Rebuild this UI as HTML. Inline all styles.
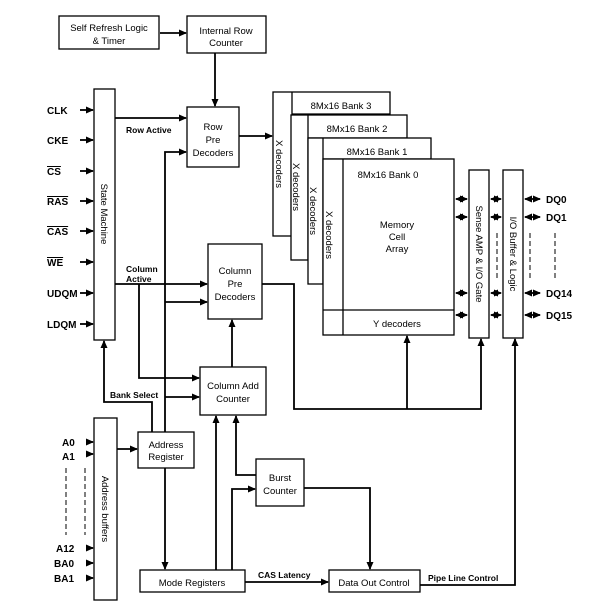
<!DOCTYPE html>
<html><head><style>
body{margin:0;background:#fff}
svg{display:block;font-family:"Liberation Sans",sans-serif}
.b{font-weight:bold;font-size:10px}
.t{font-size:9.5px}
</style></head><body>
<svg width="607" height="609" viewBox="0 0 607 609">
<defs><marker id="a" markerWidth="8" markerHeight="8" refX="7" refY="4" orient="auto" markerUnits="userSpaceOnUse"><path d="M0,0.5 L8,4 L0,7.5z" fill="#000"/></marker>
<marker id="s" markerWidth="8" markerHeight="8" refX="1" refY="4" orient="auto" markerUnits="userSpaceOnUse"><path d="M8,0.5 L0,4 L8,7.5z" fill="#000"/></marker></defs>
<g fill="none" stroke="#000" stroke-width="1.3">
<rect x="59" y="16" width="100" height="33"/>
<rect x="187" y="16" width="79" height="37"/>
<rect x="94" y="89" width="21" height="251"/>
<rect x="187" y="107" width="52" height="60"/>
<rect x="208" y="244" width="54" height="75"/>
<rect x="200" y="367" width="66" height="48"/>
<rect x="94" y="418" width="23" height="182"/>
<rect x="138" y="432" width="56" height="36"/>
<rect x="256" y="459" width="48" height="47"/>
<rect x="140" y="570" width="105" height="22"/>
<rect x="329" y="570" width="91" height="22"/>
<rect x="273" y="92" width="117" height="144" fill="#fff"/><line x1="292" y1="92" x2="292" y2="236"/><line x1="292" y1="114" x2="390" y2="114"/>
<rect x="291" y="115" width="116" height="145" fill="#fff"/><line x1="308" y1="115" x2="308" y2="260"/><line x1="308" y1="138" x2="407" y2="138"/>
<rect x="308" y="138" width="123" height="146" fill="#fff"/><line x1="323" y1="138" x2="323" y2="284"/><line x1="323" y1="159" x2="431" y2="159"/>
<rect x="323" y="159" width="131" height="176" fill="#fff"/><line x1="343" y1="159" x2="343" y2="335"/><line x1="323" y1="310" x2="454" y2="310"/>
<rect x="469" y="170" width="20" height="168"/>
<rect x="503" y="170" width="20" height="168"/>
</g>
<g fill="none" stroke="#000" stroke-width="1.8">
<line x1="160" y1="33" x2="186" y2="33" marker-end="url(#a)"/>
<line x1="215" y1="53" x2="215" y2="106" marker-end="url(#a)"/>
<line x1="115" y1="118" x2="186" y2="118" marker-end="url(#a)"/>
<polyline points="165,432 165,152 186,152" marker-end="url(#a)"/>
<line x1="239" y1="136" x2="272" y2="136" marker-end="url(#a)"/>
<line x1="115" y1="284" x2="207" y2="284" marker-end="url(#a)"/>
<line x1="165" y1="302" x2="207" y2="302" marker-end="url(#a)"/>
<polyline points="139,284 139,378 199,378" marker-end="url(#a)"/>
<line x1="165" y1="397" x2="199" y2="397" marker-end="url(#a)"/>
<line x1="232" y1="367" x2="232" y2="320" marker-end="url(#a)"/>
<polyline points="262,284 294,284 294,409 481,409 481,339" marker-end="url(#a)"/>
<line x1="407" y1="409" x2="407" y2="336" marker-end="url(#a)"/>
<polyline points="152,432 152,402 104,402 104,341" marker-end="url(#a)"/>
<line x1="117" y1="449" x2="137" y2="449" marker-end="url(#a)"/>
<line x1="165" y1="468" x2="165" y2="569" marker-end="url(#a)"/>
<line x1="216" y1="570" x2="216" y2="416" marker-end="url(#a)"/>
<polyline points="232,570 232,489 255,489" marker-end="url(#a)"/>
<polyline points="256,475 236,475 236,416" marker-end="url(#a)"/>
<polyline points="304,488 370,488 370,569" marker-end="url(#a)"/>
<line x1="245" y1="582" x2="328" y2="582" marker-end="url(#a)"/>
<polyline points="420,585 515,585 515,339" marker-end="url(#a)"/>
<g id="cl"><line x1="80" y1="110" x2="93" y2="110" marker-end="url(#a)"/></g>
<line x1="80" y1="140" x2="93" y2="140" marker-end="url(#a)"/>
<line x1="80" y1="171" x2="93" y2="171" marker-end="url(#a)"/>
<line x1="80" y1="201" x2="93" y2="201" marker-end="url(#a)"/>
<line x1="80" y1="231" x2="93" y2="231" marker-end="url(#a)"/>
<line x1="80" y1="262" x2="93" y2="262" marker-end="url(#a)"/>
<line x1="80" y1="293" x2="93" y2="293" marker-end="url(#a)"/>
<line x1="80" y1="324" x2="93" y2="324" marker-end="url(#a)"/>
<line x1="87" y1="442" x2="93" y2="442" marker-end="url(#a)"/>
<line x1="87" y1="454" x2="93" y2="454" marker-end="url(#a)"/>
<line x1="87" y1="548" x2="93" y2="548" marker-end="url(#a)"/>
<line x1="87" y1="563" x2="93" y2="563" marker-end="url(#a)"/>
<line x1="87" y1="578" x2="93" y2="578" marker-end="url(#a)"/>
<g id="dd">
<line x1="456" y1="199" x2="467" y2="199" marker-start="url(#s)" marker-end="url(#a)"/>
<line x1="491" y1="199" x2="501" y2="199" marker-start="url(#s)" marker-end="url(#a)"/>
<line x1="525" y1="199" x2="540" y2="199" marker-start="url(#s)" marker-end="url(#a)"/>
</g>
<use href="#dd" y="18"/><use href="#dd" y="94"/><use href="#dd" y="116"/>
</g>
<g stroke="#000" stroke-width="1" stroke-dasharray="5,3">
<line x1="497" y1="233" x2="497" y2="280"/><line x1="530" y1="233" x2="530" y2="280"/><line x1="555" y1="233" x2="555" y2="278"/>
<line x1="66" y1="468" x2="66" y2="535"/><line x1="85" y1="468" x2="85" y2="535"/>
</g>
<g class="t">
<text x="109" y="31" text-anchor="middle">Self Refresh Logic</text><text x="109" y="44" text-anchor="middle">&amp; Timer</text>
<text x="226" y="34" text-anchor="middle">Internal Row</text><text x="226" y="46" text-anchor="middle">Counter</text>
<text x="213" y="130" text-anchor="middle">Row</text><text x="213" y="143" text-anchor="middle">Pre</text><text x="213" y="156" text-anchor="middle">Decoders</text>
<text x="235" y="274" text-anchor="middle">Column</text><text x="235" y="287" text-anchor="middle">Pre</text><text x="235" y="300" text-anchor="middle">Decoders</text>
<text x="233" y="389" text-anchor="middle">Column Add</text><text x="233" y="402" text-anchor="middle">Counter</text>
<text x="166" y="448" text-anchor="middle">Address</text><text x="166" y="460" text-anchor="middle">Register</text>
<text x="280" y="481" text-anchor="middle">Burst</text><text x="280" y="494" text-anchor="middle">Counter</text>
<text x="192" y="586" text-anchor="middle">Mode Registers</text>
<text x="374" y="586" text-anchor="middle">Data Out Control</text>
<text x="341" y="109" text-anchor="middle">8Mx16 Bank 3</text>
<text x="357" y="132" text-anchor="middle">8Mx16 Bank 2</text>
<text x="377" y="155" text-anchor="middle">8Mx16 Bank 1</text>
<text x="388" y="178" text-anchor="middle">8Mx16 Bank 0</text>
<text x="397" y="228" text-anchor="middle">Memory</text><text x="397" y="240" text-anchor="middle">Cell</text><text x="397" y="252" text-anchor="middle">Array</text>
<text x="397" y="327" text-anchor="middle">Y decoders</text>
<text transform="translate(101,214) rotate(90)" text-anchor="middle">State Machine</text>
<text transform="translate(102,509) rotate(90)" text-anchor="middle">Address buffers</text>
<text transform="translate(276,164) rotate(90)" text-anchor="middle">X decoders</text>
<text transform="translate(293,187) rotate(90)" text-anchor="middle">X decoders</text>
<text transform="translate(310,211) rotate(90)" text-anchor="middle">X decoders</text>
<text transform="translate(326,235) rotate(90)" text-anchor="middle">X decoders</text>
<text transform="translate(476,254) rotate(90)" text-anchor="middle">Sense AMP &amp; I/O Gate</text>
<text transform="translate(510,254) rotate(90)" text-anchor="middle">I/O Buffer &amp; Logic</text>
</g>
<g class="b">
<text x="47" y="114">CLK</text><text x="47" y="144">CKE</text>
<text x="47" y="175" text-decoration="overline">CS</text><text x="47" y="205" text-decoration="overline">RAS</text>
<text x="47" y="235" text-decoration="overline">CAS</text><text x="47" y="266" text-decoration="overline">WE</text>
<text x="47" y="297">UDQM</text><text x="47" y="328">LDQM</text>
<text x="62" y="446">A0</text><text x="62" y="460">A1</text><text x="56" y="552">A12</text><text x="54" y="567">BA0</text><text x="54" y="582">BA1</text>
<text x="546" y="203">DQ0</text><text x="546" y="221">DQ1</text><text x="546" y="297">DQ14</text><text x="546" y="319">DQ15</text>
<g font-size="8.5px"><text x="126" y="133">Row Active</text><text x="126" y="272">Column</text><text x="126" y="282">Active</text>
<text x="110" y="398">Bank Select</text><text x="258" y="578">CAS Latency</text><text x="428" y="581">Pipe Line Control</text></g>
</g>
</svg>
</body></html>
